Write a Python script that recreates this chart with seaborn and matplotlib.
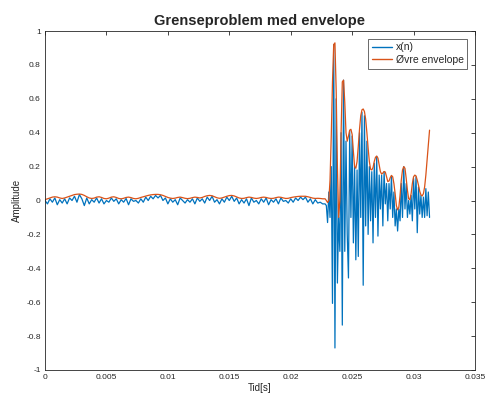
import numpy as np
import pandas as pd
import seaborn as sns
import matplotlib
matplotlib.use("Agg")
import matplotlib.pyplot as plt

# ---- data ----
dt_quiet = 2e-4          # sample spacing, quiet part
dt_active = 1e-4         # sample spacing, active part
t_active_start = 0.0228

x_quiet = [0.0, -0.02, 0.01, -0.01, 0.015, -0.025, 0.005, -0.015, 0.01, -0.02,
           0.015, 0.0, 0.025, -0.01, 0.035, 0.01, -0.03, 0.015, -0.02, 0.005,
           -0.01, 0.015, -0.015, 0.01, -0.02, 0.0, -0.01, 0.015, -0.005, 0.01,
           -0.02, 0.005, -0.01, 0.012, -0.025, 0.01, -0.005, 0.0, -0.015, 0.01,
           -0.01, 0.02, 0.0, 0.025, 0.01, 0.03, 0.015, 0.03, 0.0, 0.015,
           -0.02, 0.01, -0.01, 0.005, -0.025, 0.015, 0.0, -0.015, 0.005, -0.01,
           0.01, -0.02, 0.015, -0.005, 0.01, -0.015, 0.02, 0.0, 0.025, -0.01,
           0.005, -0.02, 0.01, -0.01, 0.02, 0.0, 0.025, -0.005, 0.015, -0.02,
           0.005, -0.015, 0.01, -0.03, 0.015, -0.01, 0.0, -0.02, 0.01, -0.01,
           0.015, -0.025, 0.005, -0.01, 0.01, -0.02, 0.015, -0.005, 0.0, -0.015,
           0.01, -0.01, 0.015, 0.0, 0.02, 0.005, 0.02, -0.01, 0.01, -0.02,
           0.005, -0.015, -0.01, -0.02]

env_quiet = [0.005, 0.01, 0.015, 0.02, 0.022, 0.02, 0.015, 0.012, 0.015, 0.02,
             0.025, 0.03, 0.035, 0.037, 0.038, 0.036, 0.03, 0.022, 0.015, 0.012,
             0.014, 0.02, 0.022, 0.018, 0.012, 0.01, 0.014, 0.02, 0.022, 0.018,
             0.012, 0.01, 0.013, 0.018, 0.02, 0.017, 0.012, 0.01, 0.013, 0.018,
             0.022, 0.026, 0.03, 0.033, 0.035, 0.036, 0.036, 0.034, 0.03, 0.024,
             0.018, 0.014, 0.012, 0.014, 0.018, 0.02, 0.017, 0.013, 0.011, 0.013,
             0.017, 0.02, 0.018, 0.015, 0.018, 0.024, 0.028, 0.03, 0.028, 0.022,
             0.016, 0.013, 0.015, 0.02, 0.025, 0.029, 0.03, 0.027, 0.021, 0.015,
             0.012, 0.013, 0.017, 0.02, 0.018, 0.014, 0.012, 0.014, 0.018, 0.02,
             0.018, 0.014, 0.012, 0.013, 0.017, 0.02, 0.019, 0.015, 0.012, 0.013,
             0.017, 0.02, 0.022, 0.024, 0.025, 0.025, 0.025, 0.022, 0.018, 0.014,
             0.012, 0.013, 0.012, 0.01]

x_active = [-0.02, -0.03, -0.13, 0.05, -0.1, 0.2, -0.607, 0.92, -0.87, 0.6,
            -0.487, -0.1, -0.3, 0.4, -0.735, 0.71, -0.3, 0.35, -0.2, -0.457,
            0.41, -0.1, 0.38, -0.25, 0.2, -0.35, 0.18, -0.33, 0.4, -0.1,
            0.52, -0.5, 0.5, -0.15, 0.35, -0.2, 0.2, -0.12, 0.17, -0.25,
            0.22, -0.1, 0.26, -0.21, 0.15, -0.05, 0.15, -0.15, 0.17, -0.02,
            0.1, -0.12, 0.1, -0.05, 0.145, -0.1, 0.05, -0.15, -0.05, -0.18,
            -0.05, -0.12, 0.1, -0.1, 0.2, -0.05, 0.1, -0.1, 0.0, -0.08,
            0.03, -0.12, 0.13, -0.05, 0.14, -0.19, 0.08, -0.08, 0.03, -0.1,
            0.02, -0.1, 0.07, -0.09, 0.05, -0.1]

env_active = [0.01, 0.0, -0.012, 0.0, 0.12, 0.38, 0.70, 0.92, 0.93, 0.65,
              0.2, -0.1, 0.0, 0.4, 0.70, 0.71, 0.58, 0.40, 0.35, 0.38,
              0.415, 0.42, 0.39, 0.29, 0.2, 0.19, 0.23, 0.32, 0.42, 0.50,
              0.535, 0.54, 0.525, 0.48, 0.40, 0.31, 0.23, 0.185, 0.18, 0.195,
              0.23, 0.255, 0.262, 0.25, 0.21, 0.17, 0.156, 0.162, 0.171, 0.168,
              0.14, 0.112, 0.115, 0.135, 0.148, 0.14, 0.1, 0.04, -0.03, -0.055,
              -0.04, 0.03, 0.12, 0.18, 0.2, 0.19, 0.13, 0.06, 0.01, 0.005,
              0.04, 0.1, 0.14, 0.15, 0.145, 0.12, 0.09, 0.055, 0.033, 0.027,
              0.04, 0.08, 0.15, 0.24, 0.33, 0.415]

series_names = ["x(n)", "Øvre envelope"]
x_ticks = [0, 0.005, 0.01, 0.015, 0.02, 0.025, 0.03, 0.035]
x_tick_labels = ["0", "0.005", "0.01", "0.015", "0.02", "0.025", "0.03", "0.035"]
y_ticks = [-1, -0.8, -0.6, -0.4, -0.2, 0, 0.2, 0.4, 0.6, 0.8, 1]
y_tick_labels = ["-1", "-0.8", "-0.6", "-0.4", "-0.2", "0", "0.2", "0.4", "0.6", "0.8", "1"]

# ---- build table ----
t_quiet = np.arange(len(x_quiet)) * dt_quiet
t_act = t_active_start + np.arange(len(x_active)) * dt_active
t_all = np.concatenate([t_quiet, t_act])
x_all = np.concatenate([x_quiet, x_active])
e_all = np.concatenate([env_quiet, env_active])
df = pd.DataFrame({
    "t": np.concatenate([t_all, t_all]),
    "v": np.concatenate([x_all, e_all]),
    "series": [series_names[0]] * len(t_all) + [series_names[1]] * len(t_all),
})

sns.set_style("white")
plt.rcParams["font.family"] = ["Liberation Sans", "DejaVu Sans"]

fig = plt.figure(figsize=(4.88, 3.98), dpi=100)
ax = fig.add_axes([45 / 488, 28 / 398, 430 / 488, 339 / 398])

sns.lineplot(data=df, x="t", y="v", hue="series", hue_order=series_names,
             palette=["#0072BD", "#D95319"], estimator=None, sort=False,
             linewidth=0.9, ax=ax)

ax.set_xlim(0, 0.035)
ax.set_ylim(-1, 1)
ax.set_xticks(x_ticks)
ax.set_xticklabels(x_tick_labels)
ax.set_yticks(y_ticks)
ax.set_yticklabels(y_tick_labels)
ax.tick_params(direction="in", length=3, width=0.6, labelsize=6,
               top=True, right=True, colors="#262626", pad=3)
for s in ax.spines.values():
    s.set_linewidth(0.6)
    s.set_color("#262626")
    s.set_visible(True)

ax.set_title("Grenseproblem med envelope", fontsize=10.5, fontweight="bold", pad=4)
ax.set_xlabel("Tid[s]", fontsize=7, labelpad=1)
ax.set_ylabel("Amplitude", fontsize=7, labelpad=3)

leg = ax.legend(loc="upper right", fontsize=7.5, frameon=True, fancybox=False,
                edgecolor="#262626", handlelength=2.0, borderpad=0.35,
                labelspacing=0.25, handletextpad=0.3, borderaxespad=0.75)
leg.get_frame().set_linewidth(0.6)
for line in leg.get_lines():
    line.set_linewidth(1.0)

fig.savefig("out.png", dpi=100)
